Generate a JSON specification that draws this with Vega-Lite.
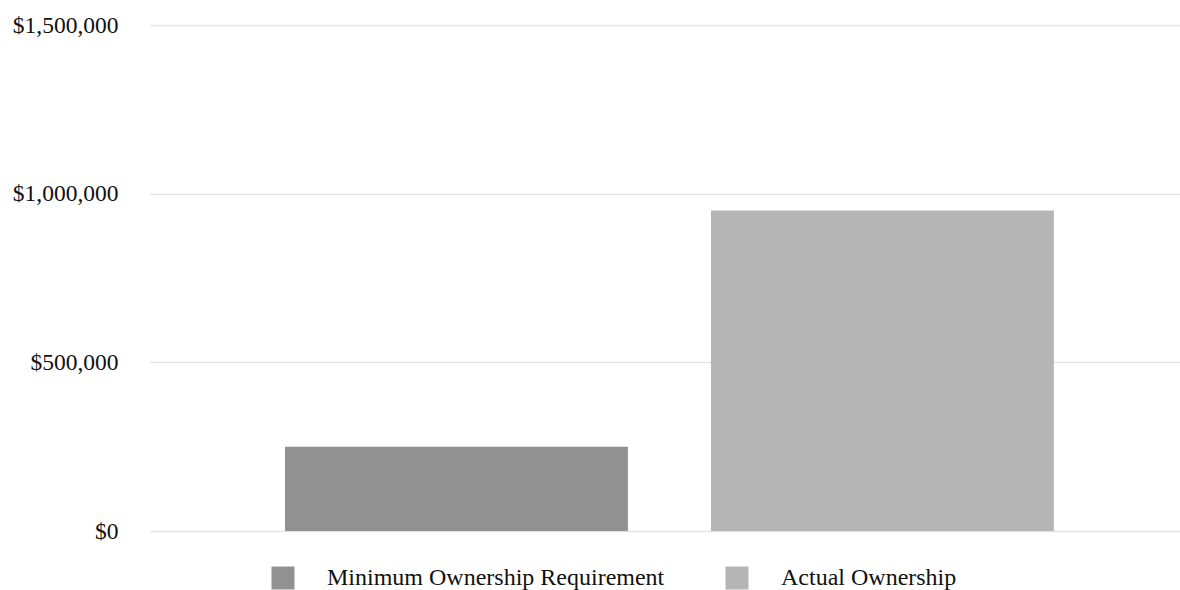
{
  "$schema": "https://vega.github.io/schema/vega-lite/v6.json",
  "width": 1030,
  "height": 506,
  "autosize": {"type": "none"},
  "padding": {"left": 150, "top": 25, "right": 0, "bottom": 59},
  "background": "white",
  "data": {"values": [
    {"series": "Minimum Ownership Requirement", "value": 250000},
    {"series": "Actual Ownership", "value": 950000}
  ]},
  "mark": {"type": "bar"},
  "encoding": {
    "x": {"field": "series", "type": "nominal", "sort": ["Minimum Ownership Requirement", "Actual Ownership"], "axis": null,
          "scale": {"paddingInner": 0.195, "paddingOuter": 0.3065, "align": 0.517}},
    "y": {"field": "value", "type": "quantitative",
          "scale": {"domain": [0, 1500000], "nice": false},
          "axis": {"values": [0, 500000, 1000000, 1500000], "format": "$,.0f", "title": null, "domain": false, "ticks": false,
                   "labelPadding": 32, "labelFont": "Liberation Serif", "labelFontSize": 23.5, "labelColor": "#111111",
                   "gridColor": "#e4e4e4", "gridWidth": 1.5}},
    "color": {"field": "series", "type": "nominal", "sort": ["Minimum Ownership Requirement", "Actual Ownership"],
              "scale": {"range": ["#919191", "#b5b5b5"]},
              "legend": {"title": null, "orient": "none", "direction": "horizontal", "legendX": 121, "legendY": 541,
                         "symbolType": "square", "symbolSize": 529, "symbolStrokeWidth": 0, "symbolOpacity": 1,
                         "labelFont": "Liberation Serif", "labelFontSize": 24, "labelColor": "#111111", "labelOffset": 32,
                         "labelLimit": 600, "columnPadding": 60, "padding": 0}}
  },
  "config": {"view": {"stroke": null}}
}
